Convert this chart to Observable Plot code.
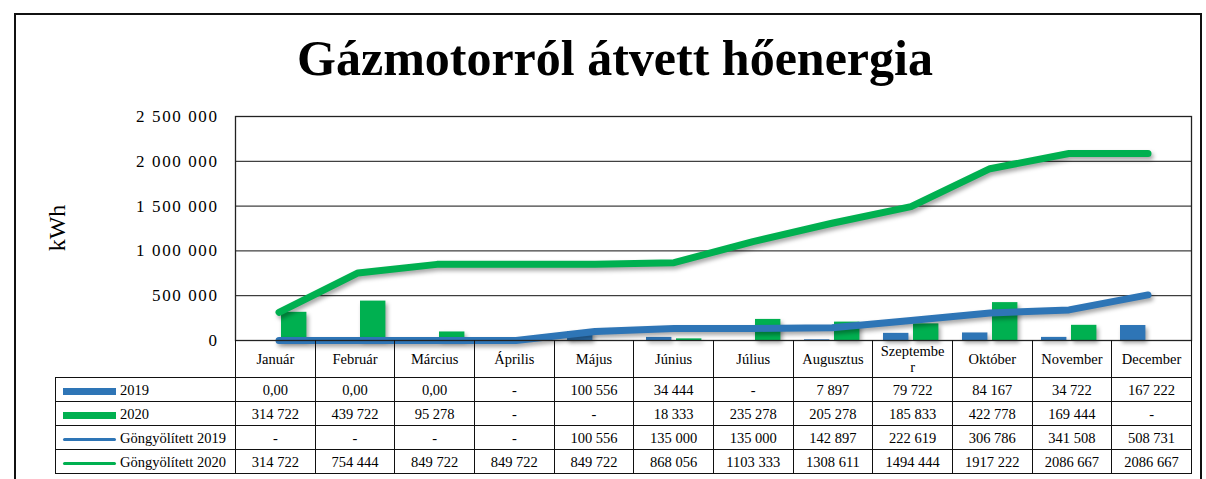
<!DOCTYPE html>
<html>
<head>
<meta charset="utf-8">
<script src="https://cdn.jsdelivr.net/npm/d3@7"></script>
<script src="https://cdn.jsdelivr.net/npm/@observablehq/plot@0.6"></script>
<style>
  html, body { margin: 0; padding: 0; background: #fff; }
  #wrap { position: relative; width: 1206px; height: 479px; overflow: hidden; font-family: "Liberation Serif", serif; color: #000; }
  #border { position: absolute; left: 14px; top: 13px; width: 1188px; height: 500px; border: 2px solid #111; box-sizing: border-box; }
  #title { position: absolute; top: 28px; left: 0; width: 1230px; text-align: center; font-size: 50px; font-weight: bold; line-height: 60px; }
  #ylabel { position: absolute; left: 57px; top: 228px; transform: translate(-50%, -50%) rotate(-90deg); font-size: 24px; white-space: nowrap; }
  #chart { position: absolute; left: 0; top: 0; }
  #chart g[aria-label="y-axis tick label"] text { letter-spacing: 1.6px; }
  #tbl { position: absolute; left: 55px; top: 340px; border-collapse: collapse; table-layout: fixed; font-size: 14.5px; }
  #tbl td { border: 1px solid #111; text-align: center; padding: 0; height: 23px; line-height: 16px; }
  #tbl tr.head td { height: 37px; border-top: none; padding: 0 6px; word-break: break-all; }
  #tbl tr.head td.blank { border: none; border-right: 1px solid #111; }
  #tbl td.lab { text-align: left; padding-left: 7px; white-space: nowrap; }
  .sw { display: inline-block; width: 53px; vertical-align: middle; margin-right: 4px; }
  .sw.bar { height: 7px; }
  .sw.ln { height: 3px; border-radius: 2px; }
  g[aria-label="line"], g[aria-label="bar"] { filter: drop-shadow(2px 3px 2px rgba(0,0,0,0.35)); }
</style>
</head>
<body>
<div id="wrap">
  <div id="border"></div>
  <div id="chart"></div>
  <div id="title">Gázmotorról átvett hőenergia</div>
  <div id="ylabel">kWh</div>
  <table id="tbl"></table>
</div>
<script>
const months = ["Január","Február","Március","Április","Május","Június","Július","Augusztus","Szeptember","Október","November","December"];
const v2019 = [0, 0, 0, null, 100556, 34444, null, 7897, 79722, 84167, 34722, 167222];
const v2020 = [314722, 439722, 95278, null, null, 18333, 235278, 205278, 185833, 422778, 169444, null];
const cum2019 = [null, null, null, null, 100556, 135000, 135000, 142897, 222619, 306786, 341508, 508731];
const cum2020 = [314722, 754444, 849722, 849722, 849722, 868056, 1103333, 1308611, 1494444, 1917222, 2086667, 2086667];
const yTicks = [0, 500000, 1000000, 1500000, 2000000, 2500000];
const seriesNames = ["2019", "2020", "Göngyölített 2019", "Göngyölített 2020"];

const BLUE = "#2E75B6", GREEN = "#00B050";

const rows = (vals) => months.map((m, i) => ({m, v: vals[i]}));
const bars19 = rows(v2019).filter(d => d.v != null);
const bars20 = rows(v2020).filter(d => d.v != null);
const line19 = rows(cum2019).map(d => ({m: d.m, v: d.v ?? 0}));
const line20 = rows(cum2020).map(d => ({m: d.m, v: d.v ?? 0}));

const axisFmt = d => d3.format(",")(d).replace(/,/g, " ");

const plot = Plot.plot({
  width: 1206,
  height: 380,
  marginLeft: 235,
  marginRight: 15,
  marginTop: 116,
  marginBottom: 40,
  style: {fontFamily: "Liberation Serif, serif", fontSize: "17px", color: "#000", background: "transparent", overflow: "visible"},
  x: {type: "band", domain: months, padding: 0, axis: null},
  y: {domain: [0, 2500000]},
  marks: [
    Plot.gridY(yTicks, {stroke: "#111", strokeOpacity: 1, strokeWidth: 1}),
    Plot.axisY(yTicks, {tickSize: 0, tickPadding: 17, tickFormat: axisFmt, label: null, fontSize: 17}),
    Plot.barY(bars19, {x: "m", y: "v", fill: BLUE, insetLeft: 12, insetRight: 41.6}),
    Plot.barY(bars20, {x: "m", y: "v", fill: GREEN, insetLeft: 42, insetRight: 11.6}),
    Plot.line(line19, {x: "m", y: "v", stroke: BLUE, strokeWidth: 7, curve: "linear", strokeLinecap: "round", strokeLinejoin: "round"}),
    Plot.line(line20, {x: "m", y: "v", stroke: GREEN, strokeWidth: 7, curve: "linear", strokeLinecap: "round", strokeLinejoin: "round"}),
    Plot.frame({stroke: "#222", strokeWidth: 1.3})
  ]
});
document.getElementById("chart").appendChild(plot);

// data table under the chart
const tblFmt = n => {
  if (n == null) return "-";
  if (n === 0) return "0,00";
  if (n < 1000) return String(n);
  return Math.floor(n / 1000) + " " + String(n % 1000).padStart(3, "0");
};
const tbl = document.getElementById("tbl");
const colW = 956 / 12;
let html = `<colgroup><col style="width:180px">${months.map(() => `<col style="width:${colW}px">`).join("")}</colgroup>`;
html += `<tr class="head"><td class="blank"></td>${months.map(m => `<td>${m}</td>`).join("")}</tr>`;
const tableSeries = [
  {name: seriesNames[0], vals: v2019, color: BLUE, kind: "bar"},
  {name: seriesNames[1], vals: v2020, color: GREEN, kind: "bar"},
  {name: seriesNames[2], vals: cum2019, color: BLUE, kind: "ln"},
  {name: seriesNames[3], vals: cum2020, color: GREEN, kind: "ln"}
];
for (const s of tableSeries) {
  html += `<tr><td class="lab"><span class="sw ${s.kind}" style="background:${s.color}"></span>${s.name}</td>${s.vals.map(v => `<td>${tblFmt(v)}</td>`).join("")}</tr>`;
}
tbl.innerHTML = html;
</script>
</body>
</html>
